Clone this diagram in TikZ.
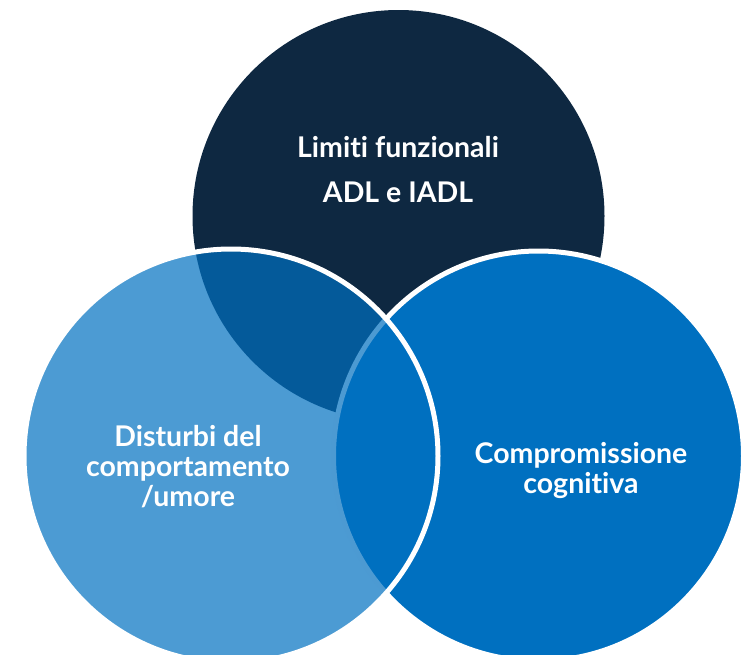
\documentclass[tikz,border=0pt]{standalone}
\usepackage{fontspec}
\setmainfont{Lato}[Ligatures={NoCommon,NoContextual,NoRare}]
\definecolor{navy}{HTML}{0E2841}
\definecolor{vblue}{HTML}{0070C0}
\tikzset{
  ring/.style={circle, inner sep=0pt, outer sep=0pt},
  lbl/.style={anchor=base, text=white, inner sep=0pt, font=\fontsize{28.5}{32}\selectfont\bfseries}
}
\begin{document}
\begin{tikzpicture}[x=1pt,y=-1pt]
\useasboundingbox (0,0) rectangle (747,654);
\begin{scope}
\clip (0,0) rectangle (747,654);
\node[ring, fill=navy, minimum size=412pt] (ctop) at (398.5,216) {};
\node[ring, fill=vblue, draw=white, line width=5pt, minimum size=410pt] (cright) at (538.5,456) {};
\node[ring, fill=vblue, fill opacity=0.7, draw=white, line width=5pt, minimum size=414pt] (cleft) at (231,456) {};
\end{scope}
\node[lbl] (t1) at (398,157) {Limiti funzionali};
\node[lbl] (t2) at (398,202) {ADL e IADL};
\node[lbl] (l1) at (188,446) {Disturbi del};
\node[lbl] (l2) at (188,476) {comportamento};
\node[lbl] (l3) at (188,506) {/umore};
\node[lbl] (r1) at (581,463) {Compromissione};
\node[lbl] (r2) at (581,493) {cognitiva};
\end{tikzpicture}
\end{document}
